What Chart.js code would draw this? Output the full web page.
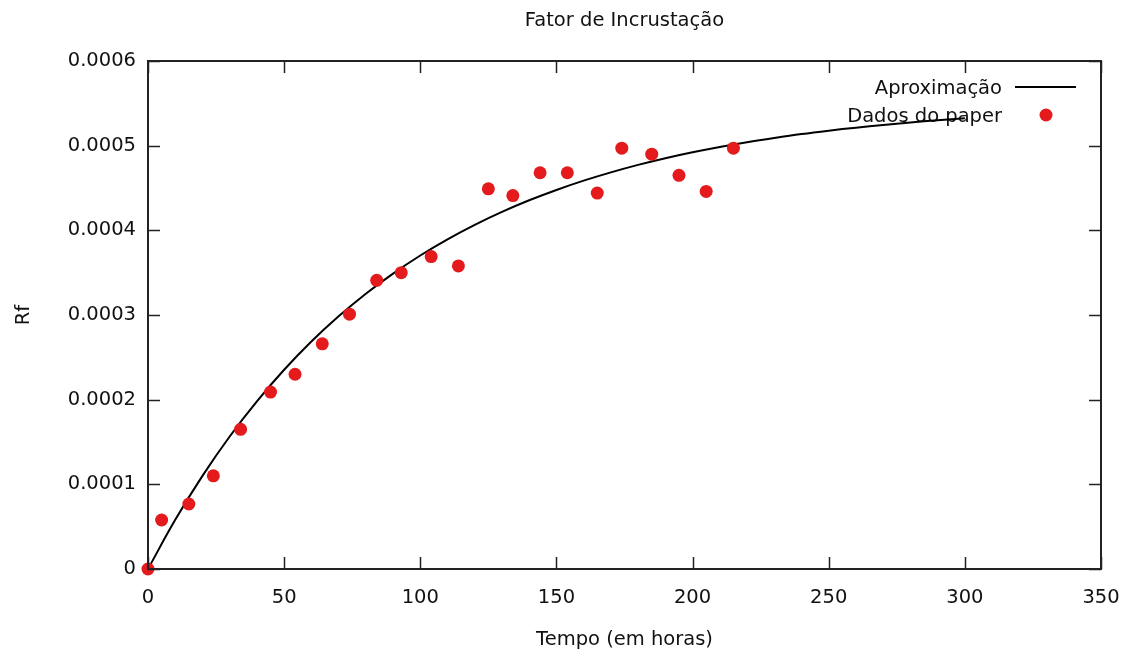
<!DOCTYPE html>
<html lang="pt">
<head>
    <meta charset="UTF-8">
    <title>Fator de Incrustação</title>
    <script src="https://cdn.jsdelivr.net/npm/chart.js"></script>
    <style>
        body { margin: 0; background: #fff; }
    </style>
</head>
<body>
    <canvas id="grafico" width="1131" height="655"></canvas>

    <script>
        // pontos medidos (Dados do paper)
        const tempoDados = [0, 5, 15, 24, 34, 45, 54, 64, 74, 84, 93, 104, 114, 125, 134, 144, 154, 165, 174, 185, 195, 205, 215];
        const rfDados = [0, 0.0000579, 0.0000768, 0.000110, 0.000165, 0.000209, 0.000230, 0.000266, 0.000301, 0.000341,
            0.000350, 0.000369, 0.000358, 0.000449, 0.000441, 0.000468, 0.000468, 0.000444, 0.000497, 0.000490,
            0.000465, 0.000446, 0.000497];

        // curva de aproximação
        const tempoCurva = [0, 10, 20, 30, 40, 50, 60, 70, 80, 90, 100, 110, 120, 130, 140, 150,
            160, 170, 180, 190, 200, 210, 220, 230, 240, 250, 260, 270, 280, 290, 300];
        const rfCurva = [0, 0.0000581, 0.000110, 0.0001565, 0.000198, 0.0002353, 0.0002686, 0.0002984, 0.0003251,
            0.0003489, 0.0003703, 0.0003894, 0.0004065, 0.0004218, 0.0004355, 0.0004477, 0.0004587, 0.0004685,
            0.0004773, 0.0004852, 0.0004922, 0.0004985, 0.0005041, 0.0005091, 0.0005137, 0.0005177, 0.0005213,
            0.0005245, 0.0005274, 0.00053, 0.0005323];

        const legendas = ['Aproximação', 'Dados do paper'];

        const fonte = { family: 'DejaVu Sans', size: 19.5 };
        const corTexto = '#111';
        const corPontos = '#e41a1c';

        // moldura, ticks para dentro (espelhados) e legenda no estilo gnuplot
        const estiloGnuplot = {
            id: 'estiloGnuplot',
            beforeDatasetsDraw(chart) {
                const { ctx, chartArea } = chart;
                ctx.save();
                ctx.font = fonte.size + 'px ' + fonte.family;
                ctx.fillStyle = corTexto;
                ctx.textAlign = 'right';
                ctx.textBaseline = 'middle';
                const xTexto = chartArea.right - 99;
                ctx.fillText(legendas[0], xTexto, chartArea.top + 28);
                ctx.fillText(legendas[1], xTexto, chartArea.top + 56);
                ctx.strokeStyle = '#000';
                ctx.lineWidth = 2;
                ctx.beginPath();
                ctx.moveTo(chartArea.right - 86, chartArea.top + 26);
                ctx.lineTo(chartArea.right - 25, chartArea.top + 26);
                ctx.stroke();
                ctx.fillStyle = corPontos;
                ctx.beginPath();
                ctx.arc(chartArea.right - 55, chartArea.top + 54, 6.5, 0, Math.PI * 2);
                ctx.fill();
                ctx.restore();
            },
            afterDatasetsDraw(chart) {
                const { ctx, chartArea, scales } = chart;
                const tam = 12;
                ctx.save();
                ctx.strokeStyle = '#222';
                ctx.lineWidth = 1.5;
                ctx.beginPath();
                scales.x.ticks.forEach(t => {
                    const px = Math.round(scales.x.getPixelForValue(t.value)) + 0.5;
                    ctx.moveTo(px, chartArea.bottom);
                    ctx.lineTo(px, chartArea.bottom - tam);
                    ctx.moveTo(px, chartArea.top);
                    ctx.lineTo(px, chartArea.top + tam);
                });
                scales.y.ticks.forEach(t => {
                    const py = Math.round(scales.y.getPixelForValue(t.value)) + 0.5;
                    ctx.moveTo(chartArea.left, py);
                    ctx.lineTo(chartArea.left + tam, py);
                    ctx.moveTo(chartArea.right, py);
                    ctx.lineTo(chartArea.right - tam, py);
                });
                ctx.stroke();
                ctx.lineWidth = 2;
                ctx.strokeRect(chartArea.left, chartArea.top,
                    chartArea.right - chartArea.left, chartArea.bottom - chartArea.top);
                ctx.restore();
            }
        };

        const ctx = document.getElementById('grafico').getContext('2d');
        const chart = new Chart(ctx, {
            type: 'scatter',
            data: {
                datasets: [{
                    label: legendas[0],
                    data: tempoCurva.map((t, i) => ({ x: t, y: rfCurva[i] })),
                    showLine: true,
                    borderColor: '#000',
                    borderWidth: 2,
                    pointRadius: 0,
                    tension: 0.4,
                    order: 2
                }, {
                    label: legendas[1],
                    data: tempoDados.map((t, i) => ({ x: t, y: rfDados[i] })),
                    backgroundColor: corPontos,
                    borderWidth: 0,
                    pointRadius: 6.5,
                    clip: false,
                    order: 1
                }]
            },
            options: {
                responsive: false,
                animation: false,
                layout: { padding: { left: 0, right: 30, top: 0, bottom: 0 } },
                plugins: {
                    legend: { display: false },
                    tooltip: { enabled: false },
                    title: {
                        display: true,
                        fullSize: false,
                        text: 'Fator de Incrustação',
                        color: corTexto,
                        font: { family: fonte.family, size: fonte.size, weight: 'normal' },
                        padding: { top: 9.5, bottom: 28.1 },
                        align: 'center'
                    }
                },
                scales: {
                    x: {
                        type: 'linear',
                        min: 0,
                        max: 350,
                        ticks: { stepSize: 50, color: corTexto, font: fonte, padding: 17, maxRotation: 0 },
                        grid: { display: true, drawOnChartArea: false, drawTicks: false },
                        border: { display: false },
                        title: {
                            display: true,
                            text: 'Tempo (em horas)',
                            color: corTexto,
                            font: fonte,
                            padding: { top: 0, bottom: 3.5 }
                        },
                        afterFit(scale) {
                            scale.height = 86;
                            scale.paddingLeft = 0;
                            scale.paddingRight = 0;
                        }
                    },
                    y: {
                        type: 'linear',
                        min: 0,
                        max: 0.0006,
                        ticks: {
                            stepSize: 0.0001,
                            color: corTexto,
                            font: fonte,
                            padding: 12,
                            callback: v => v === 0 ? '0' : v.toFixed(4)
                        },
                        grid: { display: true, drawOnChartArea: false, drawTicks: false },
                        border: { display: false },
                        title: {
                            display: true,
                            text: 'Rf',
                            color: corTexto,
                            font: fonte,
                            padding: { top: 12, bottom: 0 }
                        },
                        afterFit(scale) {
                            scale.width = 148;
                            scale.paddingTop = 0;
                            scale.paddingBottom = 0;
                        }
                    }
                }
            },
            plugins: [estiloGnuplot]
        });
    </script>
</body>
</html>
